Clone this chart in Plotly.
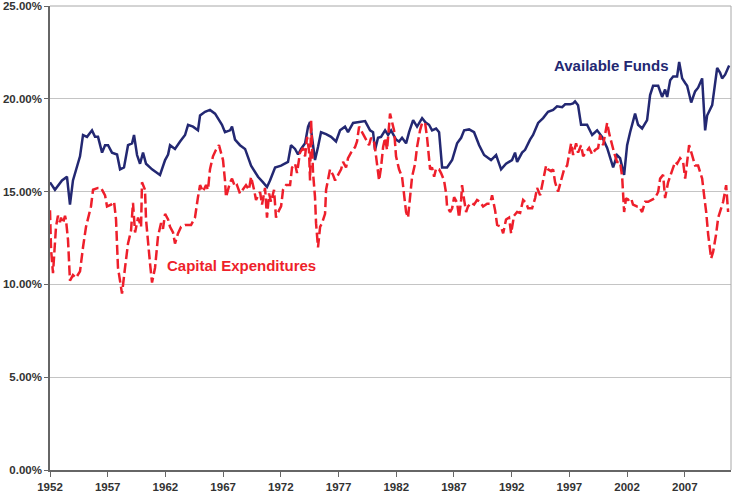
import plotly.graph_objects as go

# Available funds, %
FUNDS_YEARS = [1952.00, 1952.43, 1953.04, 1953.47, 1953.73, 1953.99, 1954.60, 1954.86, 1955.21, 1955.64,
               1955.90, 1956.16, 1956.51, 1956.77, 1957.03, 1957.37, 1957.81, 1958.07, 1958.41, 1958.76,
               1959.11, 1959.28, 1959.54, 1959.80, 1960.06, 1960.32, 1960.84, 1961.53, 1961.97, 1962.23,
               1962.40, 1962.83, 1963.27, 1963.70, 1963.96, 1964.39, 1964.82, 1965.00, 1965.43, 1965.86,
               1966.30, 1966.90, 1967.16, 1967.60, 1967.77, 1968.03, 1968.46, 1968.90, 1969.42, 1970.02,
               1970.46, 1970.80, 1971.06, 1971.50, 1972.02, 1972.36, 1972.62, 1972.88, 1973.23, 1973.49,
               1973.75, 1974.10, 1974.36, 1974.53, 1974.79, 1974.96, 1975.22, 1975.48, 1975.92, 1976.35,
               1976.78, 1977.13, 1977.56, 1977.82, 1978.26, 1978.69, 1979.30, 1979.73, 1979.99, 1980.16,
               1980.42, 1980.68, 1981.03, 1981.29, 1981.55, 1981.98, 1982.24, 1982.50, 1982.85, 1983.11,
               1983.46, 1983.80, 1984.24, 1984.58, 1984.84, 1985.10, 1985.45, 1985.71, 1985.97, 1986.40,
               1986.84, 1987.27, 1987.62, 1987.88, 1988.31, 1988.74, 1989.18, 1989.61, 1990.21, 1990.65,
               1991.08, 1991.51, 1992.03, 1992.29, 1992.47, 1992.90, 1993.16, 1993.59, 1993.85, 1994.29,
               1994.72, 1995.15, 1995.59, 1995.93, 1996.37, 1996.63, 1997.06, 1997.32, 1997.49, 1997.75,
               1998.01, 1998.53, 1998.97, 1999.40, 1999.83, 2000.27, 2000.79, 2001.13, 2001.39, 2001.74,
               2002.00, 2002.26, 2002.69, 2002.95, 2003.30, 2003.73, 2003.99, 2004.25, 2004.69, 2005.03,
               2005.29, 2005.47, 2005.73, 2005.99, 2006.33, 2006.51, 2006.77, 2007.03, 2007.20, 2007.55,
               2007.89, 2008.15, 2008.50, 2008.76, 2008.93, 2009.37, 2009.80, 2010.06, 2010.23, 2010.49,
               2010.84]
FUNDS = [15.5, 15.1, 15.6, 15.8, 14.3, 15.6, 16.9, 18.05, 17.95, 18.3,
         17.95, 17.95, 17.1, 17.5, 17.5, 17.1, 17.0, 16.2, 16.3, 17.5,
         17.6, 18.05, 16.97, 16.5, 17.1, 16.5, 16.2, 15.9, 16.7, 17.0,
         17.5, 17.3, 17.7, 18.05, 18.6, 18.5, 18.3, 19.1, 19.3, 19.4,
         19.2, 18.6, 18.2, 18.3, 18.5, 17.8, 17.5, 17.3, 16.4, 15.8,
         15.5, 15.25, 15.6, 16.3, 16.4, 16.5, 16.6, 17.5, 17.3, 17.0,
         17.3, 17.6, 18.5, 18.75, 17.4, 16.7, 17.4, 18.2, 18.1, 17.95,
         17.7, 18.3, 18.5, 18.2, 18.7, 18.75, 18.8, 18.3, 18.2, 17.25,
         17.9, 17.95, 18.3, 18.05, 18.3, 17.8, 17.7, 17.9, 17.6, 18.2,
         18.85, 18.5, 18.96, 18.7, 18.6, 18.3, 18.4, 18.2, 16.3, 16.3,
         16.7, 17.6, 17.9, 18.3, 18.35, 18.2, 17.5, 16.97, 16.7, 16.97,
         16.2, 16.5, 16.7, 17.1, 16.6, 17.1, 17.25, 17.8, 18.05, 18.7,
         18.96, 19.3, 19.4, 19.6, 19.55, 19.7, 19.7, 19.75, 19.86, 19.65,
         18.6, 18.6, 18.05, 18.3, 17.95, 17.35, 16.3, 16.97, 16.8, 15.9,
         17.5, 18.2, 19.2, 18.6, 18.4, 18.85, 20.2, 20.7, 20.7, 20.1,
         20.5, 20.1, 21.0, 21.2, 21.2, 21.98, 21.1, 20.85, 20.7, 19.8,
         20.4, 20.6, 21.1, 18.3, 19.1, 19.66, 21.66, 21.4, 21.1, 21.3,
         21.8]

# Capital expenditures, %
CAPEX_YEARS = [1952.00, 1952.09, 1952.26, 1952.43, 1952.52, 1952.69, 1952.87, 1952.95, 1953.13, 1953.30,
               1953.39, 1953.56, 1953.73, 1953.99, 1954.25, 1954.60, 1954.69, 1954.86, 1955.12, 1955.29,
               1955.55, 1955.73, 1956.16, 1956.42, 1956.77, 1956.94, 1957.29, 1957.55, 1957.72, 1957.89,
               1958.24, 1958.50, 1958.76, 1959.02, 1959.19, 1959.37, 1959.63, 1959.89, 1959.97, 1960.23,
               1960.32, 1960.67, 1960.84, 1961.10, 1961.36, 1961.62, 1961.79, 1961.97, 1962.23, 1962.40,
               1962.66, 1962.83, 1963.09, 1963.35, 1963.70, 1964.22, 1964.56, 1964.82, 1965.00, 1965.26,
               1965.52, 1965.69, 1965.86, 1966.12, 1966.38, 1966.64, 1966.82, 1966.99, 1967.16, 1967.25,
               1967.60, 1967.77, 1968.03, 1968.20, 1968.46, 1968.72, 1968.98, 1969.24, 1969.42, 1969.68,
               1969.85, 1970.20, 1970.37, 1970.63, 1970.80, 1970.98, 1971.15, 1971.41, 1971.58, 1971.85,
               1972.02, 1972.19, 1972.45, 1972.80, 1972.97, 1973.23, 1973.40, 1973.66, 1973.92, 1974.10,
               1974.27, 1974.44, 1974.53, 1974.62, 1974.79, 1974.96, 1975.05, 1975.22, 1975.40, 1975.57,
               1975.83, 1975.92, 1976.26, 1976.52, 1976.70, 1976.96, 1977.22, 1977.39, 1977.65, 1977.82,
               1978.08, 1978.43, 1978.60, 1978.78, 1978.95, 1979.21, 1979.38, 1979.64, 1979.82, 1980.08,
               1980.25, 1980.51, 1980.68, 1980.86, 1981.03, 1981.20, 1981.46, 1981.64, 1981.81, 1981.98,
               1982.24, 1982.50, 1982.68, 1982.85, 1983.02, 1983.20, 1983.37, 1983.63, 1983.80, 1984.06,
               1984.24, 1984.50, 1984.67, 1984.93, 1985.10, 1985.28, 1985.45, 1985.71, 1985.88, 1986.14,
               1986.32, 1986.40, 1986.66, 1986.84, 1987.01, 1987.27, 1987.44, 1987.62, 1987.70, 1987.88,
               1988.05, 1988.22, 1988.48, 1988.74, 1989.00, 1989.26, 1989.52, 1989.87, 1990.13, 1990.30,
               1990.56, 1990.74, 1991.08, 1991.26, 1991.51, 1991.77, 1991.95, 1992.20, 1992.47, 1992.73,
               1992.99, 1993.25, 1993.42, 1993.77, 1994.03, 1994.20, 1994.46, 1994.72, 1994.98, 1995.15,
               1995.41, 1995.59, 1995.76, 1996.02, 1996.28, 1996.54, 1996.80, 1997.15, 1997.32, 1997.58,
               1997.75, 1998.01, 1998.19, 1998.45, 1998.71, 1998.97, 1999.23, 1999.49, 1999.66, 1999.92,
               2000.27, 2000.44, 2000.70, 2000.87, 2001.13, 2001.39, 2001.57, 2001.74, 2001.91, 2002.08,
               2002.34, 2002.51, 2002.86, 2003.03, 2003.30, 2003.56, 2003.82, 2004.16, 2004.42, 2004.69,
               2004.86, 2005.12, 2005.29, 2005.55, 2005.90, 2006.16, 2006.33, 2006.59, 2006.85, 2007.03,
               2007.20, 2007.37, 2007.63, 2007.89, 2008.15, 2008.50, 2008.67, 2008.85, 2009.02, 2009.28,
               2009.45, 2009.71, 2009.89, 2010.15, 2010.32, 2010.58, 2010.75]
CAPEX = [14.0, 11.9, 10.6, 12.2, 13.1, 13.7, 13.35, 13.6, 13.3, 13.7,
         13.45, 12.4, 10.2, 10.5, 10.35, 10.7, 11.3, 12.0, 13.1, 13.6,
         14.2, 15.1, 15.2, 15.2, 14.8, 14.2, 14.3, 14.45, 13.5, 10.9,
         9.5, 10.9, 12.2, 12.9, 14.4, 12.8, 13.6, 13.1, 15.5, 15.1,
         13.5, 11.1, 10.1, 10.9, 12.6, 13.3, 13.0, 13.8, 13.5, 13.1,
         12.8, 12.2, 12.75, 13.1, 13.2, 13.2, 13.6, 14.7, 15.35, 15.0,
         15.35, 15.1, 16.2, 16.9, 17.25, 17.5, 17.1, 16.7, 15.6, 14.7,
         15.5, 15.7, 15.25, 15.35, 14.9, 15.1, 15.35, 15.1, 15.8, 15.1,
         14.55, 14.98, 14.3, 15.2, 13.6, 14.9, 14.45, 15.1, 13.6, 14.0,
         14.2, 15.1, 15.35, 15.35, 16.3, 16.5, 16.0, 17.1, 17.35, 16.9,
         17.95, 17.2, 15.6, 18.85, 16.0, 14.7, 13.3, 12.0, 13.1, 13.3,
         13.8, 15.1, 16.2, 15.9, 15.6, 15.9, 16.2, 16.6, 16.3, 16.8,
         17.1, 17.4, 17.7, 18.5, 18.3, 18.05, 17.8, 17.5, 17.9, 17.65,
         16.9, 15.6, 16.3, 17.4, 17.9, 17.25, 19.2, 18.75, 18.3, 16.9,
         16.2, 15.8, 14.9, 13.9, 13.6, 14.9, 15.8, 16.5, 17.4, 18.3,
         18.7, 18.7, 17.9, 16.2, 16.3, 15.8, 16.25, 16.2, 16.0, 15.6,
         14.9, 14.2, 13.9, 14.1, 14.7, 14.4, 13.6, 14.55, 15.35, 14.55,
         13.9, 14.2, 14.4, 14.3, 14.55, 14.45, 14.2, 14.35, 14.35, 14.8,
         14.0, 13.2, 13.1, 12.75, 13.5, 13.6, 12.75, 13.7, 13.9, 13.85,
         14.55, 14.4, 14.1, 14.1, 14.65, 15.2, 14.8, 15.6, 16.4, 16.2,
         16.1, 16.2, 15.5, 15.0, 15.6, 16.2, 16.4, 17.6, 16.97, 17.6,
         17.1, 17.5, 16.9, 17.1, 17.35, 17.0, 17.25, 17.35, 18.05, 17.5,
         18.7, 18.15, 17.5, 17.1, 16.6, 16.6, 15.8, 13.9, 14.65, 14.55,
         14.65, 14.3, 14.2, 14.2, 13.9, 14.45, 14.45, 14.55, 14.65, 14.98,
         15.7, 15.9, 14.65, 15.5, 16.2, 16.6, 16.5, 16.8, 16.6, 15.7,
         16.6, 17.5, 16.97, 16.4, 16.4, 15.7, 14.8, 13.9, 12.7, 11.4,
         11.75, 12.7, 13.6, 14.1, 14.45, 15.35, 13.9]

TICK_YEARS = [1952, 1957, 1962, 1967, 1972, 1977, 1982, 1987, 1992, 1997, 2002, 2007]
Y_TICKS = [0, 5, 10, 15, 20, 25]
Y_LABELS = ['0.00%', '5.00%', '10.00%', '15.00%', '20.00%', '25.00%']

BLUE = '#232872'
RED = '#ee1f2b'
FONT = 'Liberation Sans, Arial, sans-serif'

funds = go.Scatter(x=FUNDS_YEARS, y=FUNDS, mode='lines', name='Available Funds',
                   line=dict(color=BLUE, width=2.5))
capex = go.Scatter(x=CAPEX_YEARS, y=CAPEX, mode='lines', name='Capital Expenditures',
                   line=dict(color=RED, width=2.5, dash='10px,4px'))

layout = go.Layout(
    width=733, height=495,
    margin=dict(l=50, r=2, t=6, b=25),
    paper_bgcolor='white', plot_bgcolor='white',
    showlegend=False,
    font=dict(family=FONT, color='#333333'),
    xaxis=dict(range=[1952, 2011], tickvals=TICK_YEARS, ticktext=[str(y) for y in TICK_YEARS],
               showgrid=False, zeroline=False, showline=True, linecolor='#666666', linewidth=1.5,
               ticks='outside', ticklen=5, tickcolor='#666666', automargin=False,
               tickfont=dict(size=11.5, family=FONT, weight='bold')),
    yaxis=dict(range=[0, 25], tickvals=Y_TICKS, ticktext=Y_LABELS,
               showgrid=True, gridcolor='#c4c4c4', gridwidth=1, zeroline=False,
               showline=True, linecolor='#666666', linewidth=1.5,
               ticks='outside', ticklen=4, tickcolor='#666666', automargin=False,
               ticklabeloverflow='allow',
               tickfont=dict(size=11.5, family=FONT, weight='bold')),
    shapes=[
        dict(type='line', xref='paper', yref='paper', x0=1, x1=1, y0=0, y1=1,
             line=dict(color='#a8a8a8', width=1)),
        dict(type='line', xref='paper', yref='paper', x0=0, x1=1, y0=1, y1=1,
             line=dict(color='#a8a8a8', width=1)),
    ],
    annotations=[
        dict(x=2000.6, y=21.8, text='Available Funds', showarrow=False,
             font=dict(size=15, color=BLUE, family=FONT, weight='bold')),
        dict(x=1968.6, y=11.0, text='Capital Expenditures', showarrow=False,
             font=dict(size=15, color=RED, family=FONT, weight='bold')),
    ],
)

fig = go.Figure(data=[funds, capex], layout=layout)
fig.write_html('out.html', config={'displayModeBar': False},
               post_script="document.body.style.margin='0';")
